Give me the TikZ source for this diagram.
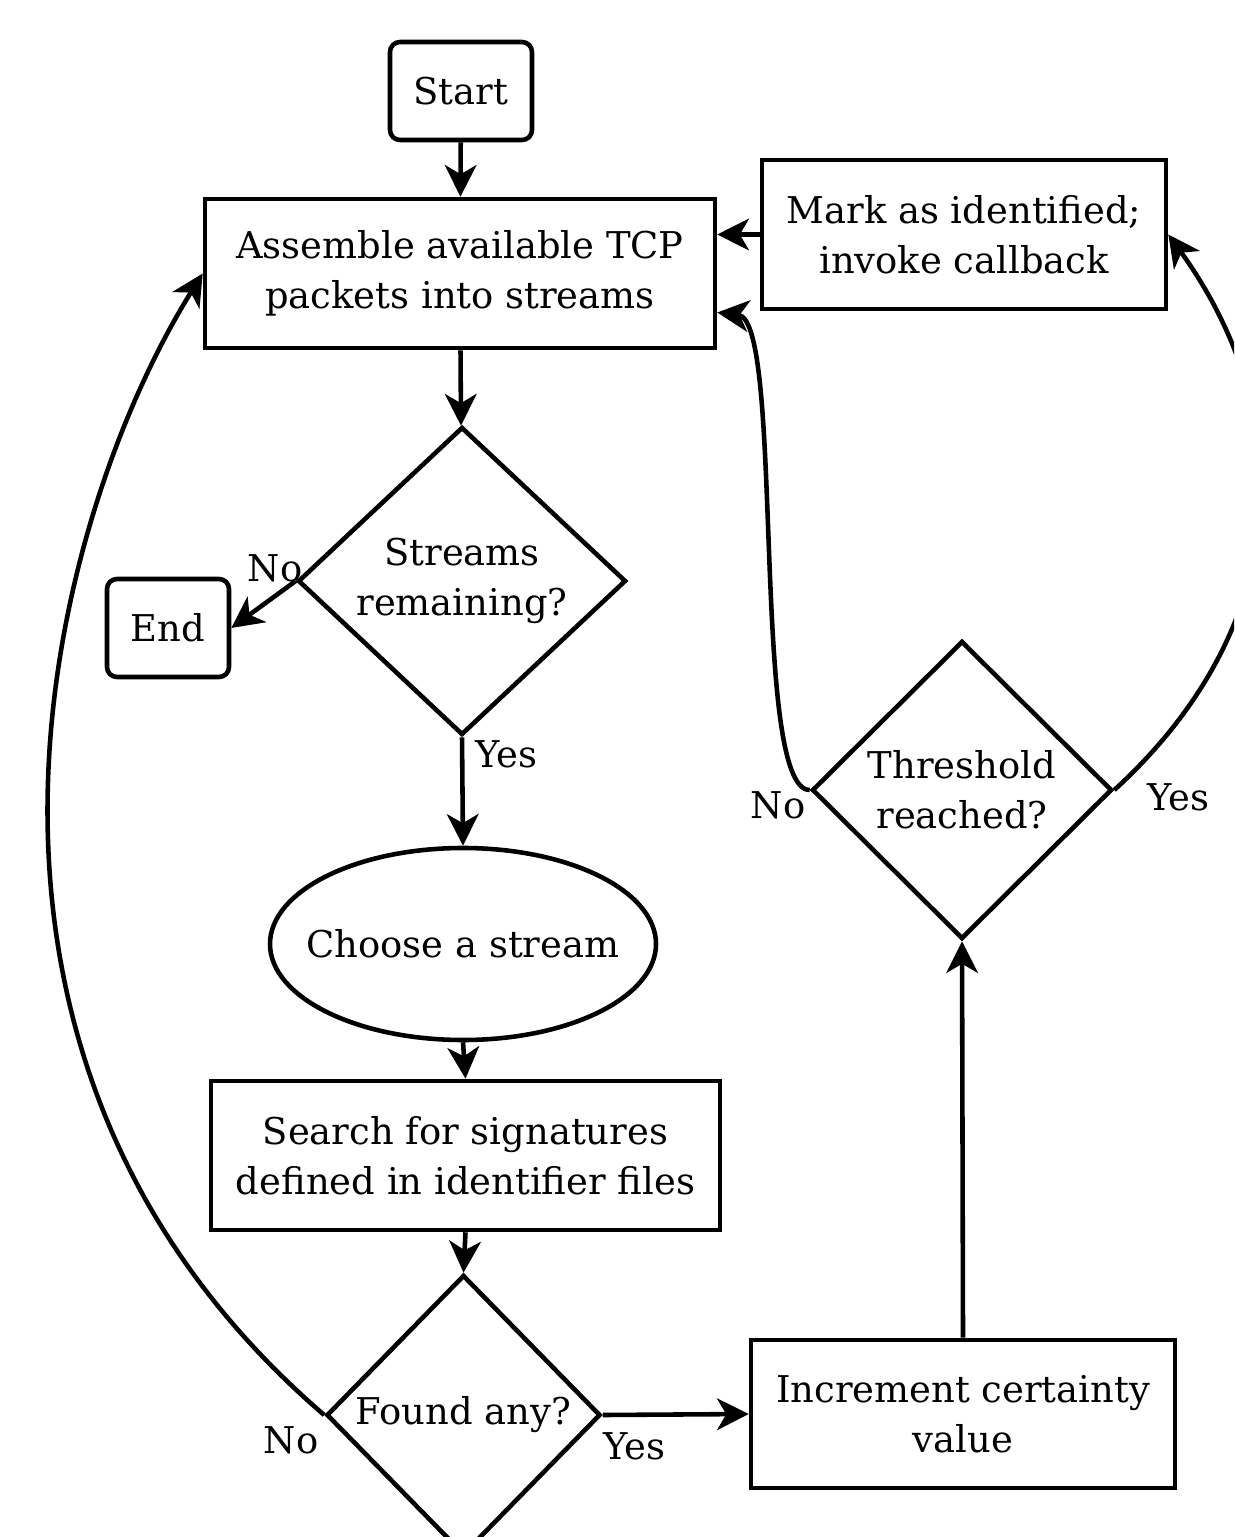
\documentclass[tikz,border=0pt]{standalone}
\usepackage{fontspec}
\setmainfont{DejaVu Serif}
\usetikzlibrary{arrows.meta, shapes.geometric}

\begin{document}
\begin{tikzpicture}[font=\fontsize{10.5}{14.2}\selectfont]
\useasboundingbox (0,0) rectangle (12.34,-15.37);
\clip (0,0) rectangle (12.34,-15.37);

\begin{scope}[
    every node/.style={draw=black,line width=1.3pt,fill=white,align=center,inner sep=0pt},
    process/.style={shape=rectangle,minimum height=1.49cm},
    terminal/.style={shape=rectangle,rounded corners=0.1cm,minimum height=0.98cm},
    decision/.style={shape=diamond}]
    \node (start) at (4.61, -0.91) [terminal,minimum width=1.42cm] {Start};
    \node (assemble) at (4.60, -2.735) [process,minimum width=5.10cm] {Assemble available TCP\\packets into streams};
    \node (mark) at (9.64, -2.345) [process,minimum width=4.04cm] {Mark as identified;\\invoke callback};

    % % main column
    \node (streams) at (4.62, -5.81) [decision,minimum width=3.28cm,minimum height=3.08cm] {Streams\\remaining?};
    \node (endnode) at (1.68, -6.28) [terminal,minimum width=1.22cm] {End};
    \node (choose) at (4.63, -9.44) [shape=ellipse,inner xsep=-0.3cm,minimum width=3.86cm,minimum height=1.92cm] {Choose a stream};
    \node (search) at (4.655, -11.555) [process,minimum width=5.09cm] {Search for signatures\\defined in identifier files};
    \node (found) at (4.635, -14.15) [decision,minimum width=2.74cm,minimum height=2.80cm] {Found any?};

    % % right column
    \node (increment) at (9.63, -14.14) [process,minimum width=4.24cm,minimum height=1.48cm] {Increment certainty\\value};
    \node (threshold) at (9.62, -7.90) [decision,minimum width=3.00cm,minimum height=2.98cm] {Threshold\\reached?};
\end{scope}

\begin{scope}[every node/.style={inner sep=0pt}]
    \node (nostreams) at (2.75, -5.68) {No};
    \node (yesstreams) at (5.06, -7.54) {Yes};
    \node (nothreshold) at (7.78, -8.05) {No};
    \node (yesthreshold) at (11.78, -7.97) {Yes};
    \node (nofound) at (2.91, -14.40) {No};
    \node (yesfound) at (6.34, -14.46) {Yes};
\end{scope}

\begin{scope}[>={Stealth[length=9pt,width=9pt,inset=2.6pt]},
              link/.style={draw=black,line width=1.3pt},
              every edge/.style=link]
    \path [->] (start) edge (assemble);
    \path [->] (assemble) edge (streams);
    \path [->] (streams.west) edge (endnode.east);
    \path [->] (streams.south) edge (choose.north);
    \path [->] (choose.south) edge (search.north);
    \path [->] (search.south) edge (found.north);
    \path [->] (found.east) edge (increment.west);
    \path [->] (increment.north) edge (threshold.south);
    \path [->] (mark.west) edge (mark.west -| assemble.east);

    \draw [->,link] (found.west) .. controls (-1.00, -10.50) and (0.55, -5.10) .. (assemble.west);
    \draw [->,link] (threshold.west) .. controls (7.50, -7.90) and (7.85, -3.20) .. ([yshift=-0.39cm]assemble.east);
    \draw [->,link] (threshold.east) .. controls (13.00, -6.20) and (12.95, -4.10) .. (mark.east);
\end{scope}
\end{tikzpicture}
\end{document}
